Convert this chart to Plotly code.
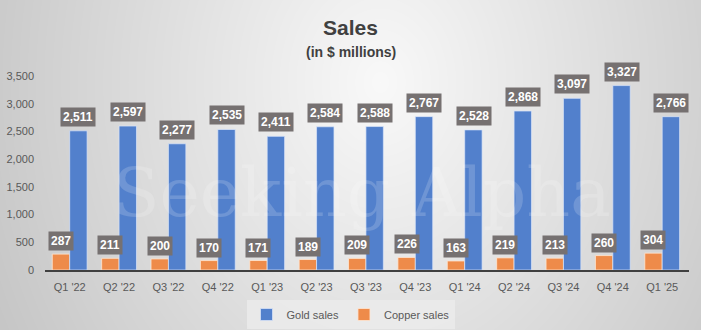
import base64
import struct
import zlib

import numpy as np
import plotly.graph_objects as go

# ---------------- data ----------------
quarters = ["Q1 '22", "Q2 '22", "Q3 '22", "Q4 '22", "Q1 '23", "Q2 '23", "Q3 '23",
            "Q4 '23", "Q1 '24", "Q2 '24", "Q3 '24", "Q4 '24", "Q1 '25"]
gold_sales = [2511, 2597, 2277, 2535, 2411, 2584, 2588, 2767, 2528, 2868, 3097, 3327, 2766]
copper_sales = [287, 211, 200, 170, 171, 189, 209, 226, 163, 219, 213, 260, 304]
y_ticks = [0, 500, 1000, 1500, 2000, 2500, 3000, 3500]

# ---------------- styling ----------------
W, H = 701, 330
ML, MR, MT, MB = 45, 12, 76, 60
PW, PH = W - ML - MR, H - MT - MB
GOLD = "#5280CC"
COPPER = "#EE8B4A"
LABEL_BG = "#767171"
TXT = "#595959"


def gradient_png():
    yy, xx = np.mgrid[0:H, 0:W]
    d = np.sqrt(((xx - 380) / 420.0) ** 2 + ((yy - 82) / 528.0) ** 2)
    g = np.clip(249 - 50 * d, 0, 255).astype(np.uint8)
    raw = b"".join(b"\x00" + g[r].tobytes() for r in range(H))

    def chunk(t, data):
        c = struct.pack(">I", len(data)) + t + data
        return c + struct.pack(">I", zlib.crc32(t + data) & 0xFFFFFFFF)

    png = (b"\x89PNG\r\n\x1a\n"
           + chunk(b"IHDR", struct.pack(">IIBBBBB", W, H, 8, 0, 0, 0, 0))
           + chunk(b"IDAT", zlib.compress(raw, 9))
           + chunk(b"IEND", b""))
    return "data:image/png;base64," + base64.b64encode(png).decode()


fig = go.Figure()
fig.add_trace(go.Bar(
    x=quarters, y=copper_sales, name="Copper sales", legendrank=2,
    marker=dict(color=COPPER, line=dict(color="rgba(255,230,210,0.8)", width=1)),
))
fig.add_trace(go.Bar(
    x=quarters, y=gold_sales, name="Gold sales", legendrank=1,
    marker=dict(color=GOLD, line=dict(color="rgba(220,230,250,0.7)", width=1)),
))

bar_half = 8.8
annotations = []
# watermark (drawn first, below the labels)
annotations.append(dict(x=(362 - ML) / PW, y=(H - MB - 192) / PH, xref="paper", yref="paper",
                        text="Seeking Alpha", showarrow=False, xanchor="center",
                        yanchor="middle",
                        font=dict(family="DejaVu Serif", size=68,
                                  color="rgba(255,255,255,0.17)")))
for q, v in zip(quarters, copper_sales):
    annotations.append(dict(x=q, y=v, xref="x", yref="y", text=f"<b>{v:,}</b>",
                            showarrow=False, yanchor="bottom", yshift=3, xshift=-bar_half,
                            bgcolor=LABEL_BG, borderpad=2,
                            font=dict(family="Liberation Sans", size=12, color="white")))
for q, v in zip(quarters, gold_sales):
    annotations.append(dict(x=q, y=v, xref="x", yref="y", text=f"<b>{v:,}</b>",
                            showarrow=False, yanchor="bottom", yshift=4, xshift=bar_half,
                            bgcolor=LABEL_BG, borderpad=2,
                            font=dict(family="Liberation Sans", size=12, color="white")))

# titles
annotations.append(dict(x=(350 - ML) / PW, y=(H - MB - 27) / PH, xref="paper", yref="paper",
                        text="<b>Sales</b>", showarrow=False, xanchor="center", yanchor="middle",
                        font=dict(family="Liberation Sans", size=21, color="#404040")))
annotations.append(dict(x=(351 - ML) / PW, y=(H - MB - 52) / PH, xref="paper", yref="paper",
                        text="<b>(in $ millions)</b>", showarrow=False, xanchor="center",
                        yanchor="middle",
                        font=dict(family="Liberation Sans", size=14, color="#404040")))

fig.update_layout(
    width=W, height=H,
    margin=dict(l=ML, r=MR, t=MT, b=MB, pad=0, autoexpand=False),
    paper_bgcolor="#d8d8d8",
    plot_bgcolor="rgba(0,0,0,0)",
    barmode="group", bargap=0.295, bargroupgap=0,
    showlegend=True,
    legend=dict(orientation="h", xref="container", yref="container",
                x=0.5, xanchor="center", y=(H - 300) / H, yanchor="top",
                bgcolor="rgba(236,236,236,0.75)",
                font=dict(family="Liberation Sans", size=11, color=TXT),
                itemwidth=30, traceorder="normal"),
    images=[dict(source=gradient_png(), xref="paper", yref="paper",
                 x=-ML / PW, y=1 + MT / PH, sizex=W / PW, sizey=H / PH,
                 xanchor="left", yanchor="top", sizing="stretch", layer="below")],
    annotations=annotations,
    xaxis=dict(showline=True, linecolor="#404040", linewidth=2, showgrid=False,
               zeroline=False, ticks="", ticklabelstandoff=6, automargin=False,
               tickfont=dict(family="Liberation Sans", size=11, color=TXT)),
    yaxis=dict(range=[0, 3500], tickvals=y_ticks, tickformat=",", showgrid=False,
               zeroline=False, showline=False, ticks="", ticklabelstandoff=10,
               automargin=False,
               tickfont=dict(family="Liberation Sans", size=11, color=TXT)),
    font=dict(family="Liberation Sans"),
)

fig.write_html("out.html")
